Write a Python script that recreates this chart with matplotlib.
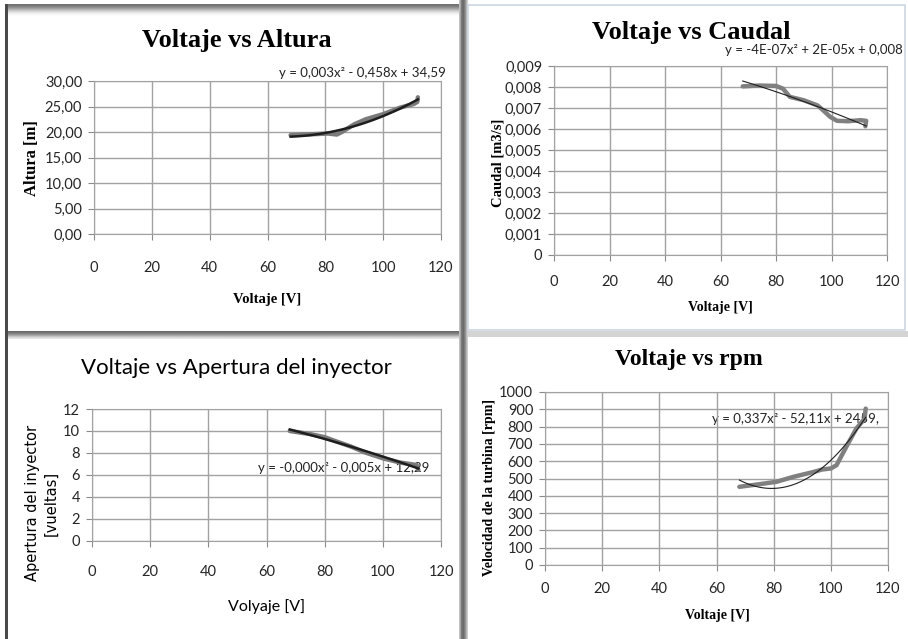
import matplotlib.pyplot as plt
from matplotlib.ticker import FuncFormatter, MultipleLocator
import numpy as np

# --- data ---
volt_altura = [68, 77, 81, 84, 86, 90, 94, 100, 106, 110.6, 111.8, 112]
altura = [19.4, 19.6, 19.7, 19.5, 20.1, 21.5, 22.5, 23.5, 24.8, 25.5, 25.9, 26.8]

volt_caudal = [68, 74, 80, 82.5, 85, 90, 95, 97, 99.5, 102, 106, 110.5, 112.5, 112.2]
caudal = [0.00803, 0.00807, 0.00805, 0.00792, 0.00753, 0.00737, 0.00712,
          0.00689, 0.00658, 0.00639, 0.00637, 0.00642, 0.00639, 0.00613]

volt_apertura = [68, 75, 80, 84, 89, 94, 100, 106, 111.6, 112.2]
apertura = [10.0, 9.72, 9.44, 9.05, 8.59, 8.04, 7.52, 7.13, 6.91, 6.46]

volt_rpm = [68, 75, 81, 87, 94, 97, 100, 102, 105.4, 108.9, 111.8, 112.2]
rpm = [452, 467, 481, 510, 538, 552, 558, 577, 683, 788, 846, 904]

x_ticks = [0, 20, 40, 60, 80, 100, 120]

W, H = 908, 639
fig = plt.figure(figsize=(W / 100, H / 100), dpi=100)

SERIF = 'Liberation Serif'
SANS = 'Lato'


def box(l, t, r, b):
    return [l / W, 1 - b / H, (r - l) / W, (b - t) / H]


# background layer in pixel coordinates (panel frames)
bg = fig.add_axes([0, 0, 1, 1], zorder=0)
bg.set_xlim(0, W)
bg.set_ylim(H, 0)
bg.axis('off')


def grad(x0, x1, y0, y1, vals, vertical=True):
    g = np.array(vals)
    img = g[:, None] if vertical else g[None, :]
    bg.imshow(img, extent=(x0, x1, y1, y0), cmap='gray', vmin=0, vmax=1,
              aspect='auto', interpolation='bilinear', origin='upper')


# top-left panel top band
grad(5, 461, 4, 17, [0.45, 0.55, 0.7, 0.85, 0.95, 1.0])
# left dark edge
bg.fill_between([5, 7.5], 4, H, color='#4a4a4a', lw=0)
# horizontal separator between left panels
grad(5, 462, 331, 339, [0.42, 0.5, 0.62, 0.78, 0.9])
# vertical separator
grad(459, 468, 0, H, [0.75, 0.45, 0.42, 0.55, 0.8], vertical=False)
# top-right panel light border
bg.plot([468, 905, 905, 468, 468], [5, 5, 330, 330, 5], color='#cdd6e2', lw=1.2)
# bottom-right top band
bg.fill_between([468, W], 331, 337, color='#d4d4d4', lw=0)
bg.set_xlim(0, W)
bg.set_ylim(H, 0)


def comma(fmt):
    return FuncFormatter(lambda v, p: (fmt % v).replace('.', ','))


def panel(pos, xs, ys, yl, ystep, yfmt, xpad, trend_lw, data_c):
    ax = fig.add_axes(pos, zorder=2)
    ax.set_facecolor('none')
    xs = np.array(xs)
    ys = np.array(ys)
    ax.plot(xs, ys, color=data_c, lw=3.2, solid_capstyle='round', zorder=3)
    c = np.polyfit(xs, ys, 2)
    xt = np.linspace(xs.min(), xs.max(), 100)
    ax.plot(xt, np.polyval(c, xt), color='#1e1e1e', lw=trend_lw, zorder=4)
    ax.set_xlim(0, 120)
    ax.set_ylim(0, yl)
    ax.set_xticks(x_ticks)
    ax.yaxis.set_major_locator(MultipleLocator(ystep))
    ax.yaxis.set_major_formatter(yfmt)
    ax.grid(True, color='#a2a2a2', lw=1.0)
    ax.set_axisbelow(True)
    for s in ax.spines.values():
        s.set_color('#a2a2a2')
    ax.tick_params(axis='both', length=4.5, color='#8a8a8a', labelsize=10.5,
                   labelcolor='#262626')
    ax.tick_params(axis='x', pad=xpad)
    ax.tick_params(axis='y', pad=4)
    for lab in ax.get_xticklabels() + ax.get_yticklabels():
        lab.set_fontfamily(SANS)
    return ax


# panel 1: Altura
panel(box(94, 81, 441, 234), volt_altura, altura, 30, 5, comma('%.2f'), 15, 1.8, '#7a7a7a')
bg.text(237, 40, 'Voltaje vs Altura', ha='center', va='center', family=SERIF,
        weight='bold', fontsize=19)
bg.text(32, 158, 'Altura [m]', rotation=90, ha='center', va='center', family=SERIF,
        weight='bold', fontsize=12)
bg.text(267, 300, 'Voltaje [V]', ha='center', va='center', family=SERIF,
        weight='bold', fontsize=10.5)
bg.text(446, 73, 'y = 0,003x² - 0,458x + 34,59', ha='right', va='center',
        family=SANS, fontsize=9.5, color='#222222')

# panel 2: Caudal
panel(box(554, 66, 887, 255), volt_caudal, caudal, 0.009, 0.001,
      FuncFormatter(lambda v, p: '0' if abs(v) < 1e-9 else ('%.3f' % v).replace('.', ',')),
      10, 0.8, '#808080')
bg.text(691, 32, 'Voltaje vs Caudal', ha='center', va='center', family=SERIF,
        weight='bold', fontsize=19)
bg.text(498, 163, 'Caudal [m3/s]', rotation=90, ha='center', va='center', family=SERIF,
        weight='bold', fontsize=10.5)
bg.text(720, 307, 'Voltaje [V]', ha='center', va='center', family=SERIF,
        weight='bold', fontsize=10)
bg.text(725, 50, 'y = -4E-07x² + 2E-05x + 0,008', ha='left', va='center',
        family=SANS, fontsize=9.5, color='#222222')

# panel 3: Apertura del inyector
panel(box(92, 409, 441, 541), volt_apertura, apertura, 12, 2, comma('%d'), 13, 1.8, '#7a7a7a')
bg.text(236, 368, 'Voltaje vs Apertura del inyector', ha='center', va='center',
        family=SANS, fontsize=16)
bg.text(42, 503, 'Apertura del inyector\n[vueltas]', rotation=90, ha='center',
        va='center', family='DejaVu Sans', fontsize=10.5, linespacing=1.3)
bg.text(267, 607, 'Volyaje [V]', ha='center', va='center', family=SANS, fontsize=11.5)
bg.text(258, 468, 'y = -0,000x² - 0,005x + 12,29', ha='left', va='center',
        family=SANS, fontsize=9.5, color='#222222')

# panel 4: rpm
panel(box(545, 392, 888, 565), volt_rpm, rpm, 1000, 100, comma('%d'), 8, 0.8, '#808080')
bg.text(689, 359, 'Voltaje vs rpm', ha='center', va='center', family=SERIF,
        weight='bold', fontsize=17)
bg.text(490, 487, 'Velocidad de la turbina [rpm]', rotation=90, ha='center',
        va='center', family=SERIF, weight='bold', fontsize=10)
bg.text(717, 615, 'Voltaje [V]', ha='center', va='center', family=SERIF,
        weight='bold', fontsize=10)
bg.text(712, 419, 'y = 0,337x² - 52,11x + 2459,', ha='left', va='center',
        family=SANS, fontsize=9.5, color='#222222')

fig.savefig('out.png', dpi=100)
